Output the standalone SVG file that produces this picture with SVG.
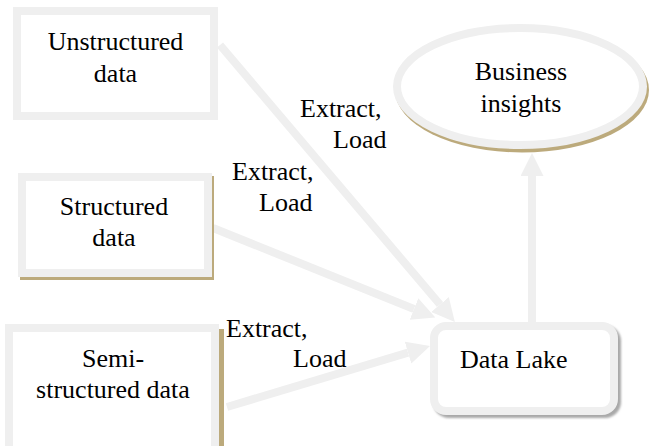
<svg xmlns="http://www.w3.org/2000/svg" width="650" height="446" viewBox="0 0 650 446">
  <style>
    .lbl { font-family: "Liberation Serif", "Times New Roman", serif; font-size: 26px; fill: #000; }
    .mid { text-anchor: middle; }
    .frame { fill: #fff; stroke: #efefef; stroke-width: 8; }
    .tan { fill: #bcaa7c; }
    .link { stroke: #efefef; stroke-width: 8; fill: none; marker-end: url(#head); }
  </style>
  <defs>
    <marker id="head" markerUnits="userSpaceOnUse" markerWidth="24" markerHeight="24" refX="0" refY="11.5" orient="auto">
      <path d="M0,0 L23,11.5 L0,23 Z" fill="#efefef"/>
    </marker>
    <filter id="soft" x="-10%" y="-10%" width="120%" height="120%">
      <feGaussianBlur stdDeviation="0.8"/>
    </filter>
  </defs>

  <!-- connectors -->
  <g id="connectors">
    <line class="link" x1="220" y1="45" x2="440" y2="304.5"/>
    <line class="link" x1="213" y1="228" x2="414" y2="309"/>
    <line class="link" x1="227" y1="407" x2="408" y2="352.6"/>
    <line class="link" x1="532" y1="322" x2="532" y2="176"/>
  </g>

  <!-- source boxes -->
  <g id="unstructured">
    <rect class="frame" x="17" y="11" width="197" height="105"/>
    <text class="lbl mid" x="115.5" y="50">Unstructured</text>
    <text class="lbl mid" x="115.5" y="82">data</text>
  </g>

  <g id="structured">
    <rect class="tan" x="20" y="176" width="194" height="104"/>
    <rect class="frame" x="22" y="177" width="186" height="96"/>
    <text class="lbl mid" x="114" y="215">Structured</text>
    <text class="lbl mid" x="114" y="246">data</text>
  </g>

  <g id="semi-structured">
    <rect class="tan" x="9" y="329" width="215" height="125"/>
    <rect class="frame" x="9" y="328" width="206" height="122"/>
    <text class="lbl mid" x="113" y="367">Semi-</text>
    <text class="lbl mid" x="113" y="398">structured data</text>
  </g>

  <!-- target store -->
  <g id="data-lake">
    <rect x="433" y="325" width="188" height="93" rx="16" fill="#a9a9a9" filter="url(#soft)"/>
    <rect class="frame" x="434" y="326" width="180" height="85" rx="12"/>
    <text class="lbl" x="460" y="368">Data Lake</text>
  </g>

  <!-- outcome -->
  <g id="business-insights">
    <ellipse class="tan" cx="522" cy="90" rx="127" ry="62.5"/>
    <ellipse class="frame" cx="520" cy="86.5" rx="123" ry="58.5"/>
    <text class="lbl mid" x="521" y="80">Business</text>
    <text class="lbl mid" x="521" y="112">insights</text>
  </g>

  <!-- connector labels -->
  <g id="labels">
    <text class="lbl" x="300" y="117">Extract,</text>
    <text class="lbl" x="333" y="148">Load</text>
    <text class="lbl" x="232" y="180">Extract,</text>
    <text class="lbl" x="259" y="211">Load</text>
    <text class="lbl" x="226" y="337">Extract,</text>
    <text class="lbl" x="293" y="367">Load</text>
  </g>
</svg>
